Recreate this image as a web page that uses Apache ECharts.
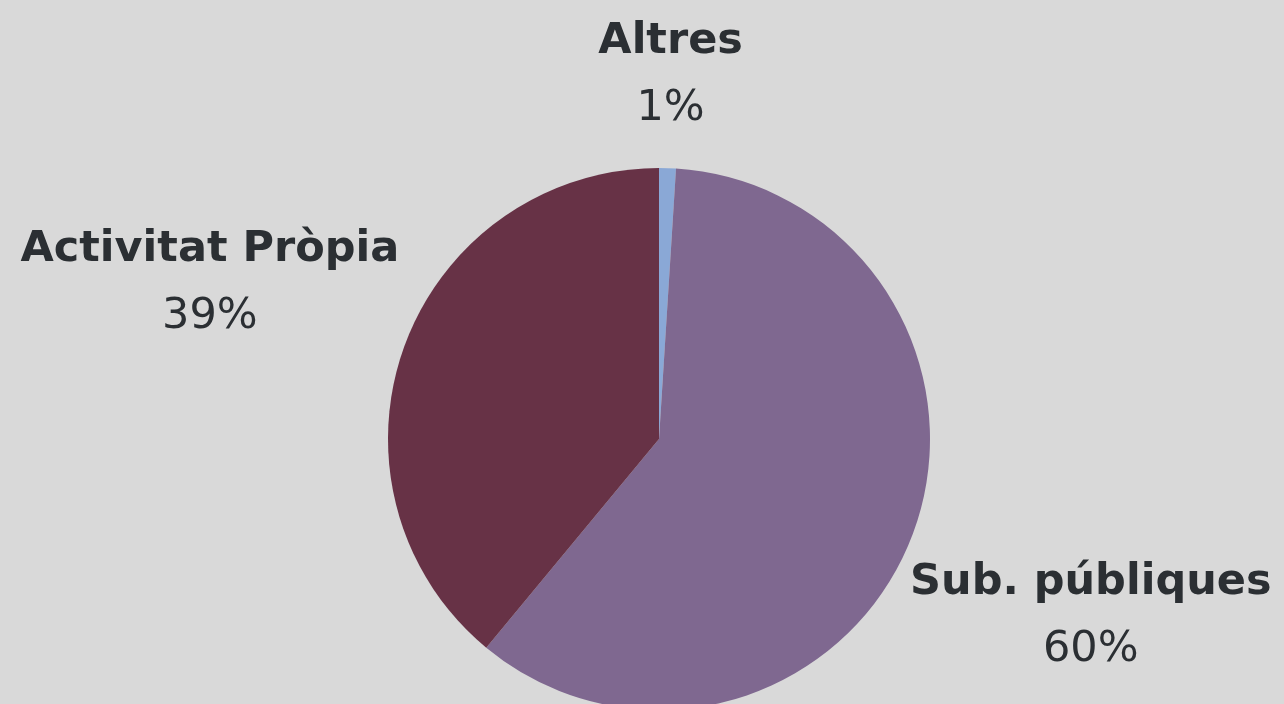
<!DOCTYPE html>
<html><head><meta charset="utf-8">
<script src="https://cdn.jsdelivr.net/npm/echarts@6/dist/echarts.min.js"></script>
<style>html,body{margin:0;padding:0;background:#d9d9d9;}#c{width:1284px;height:704px;}</style>
</head><body><div id="c"></div>
<script>
const categories = ['Altres', 'Sub. públiques', 'Activitat Pròpia'];
const values = [1, 60, 39];
const percentLabels = ['1%', '60%', '39%'];
const colors = ['#8aa8d6', '#7f6890', '#673246'];

const CX = 659, CY = 439, R = 271, GAP = 44, SHIFT_Y = 6;
const total = values.reduce((a, b) => a + b, 0);
const midAngles = [];
let acc = 0;
values.forEach(v => { midAngles.push((acc + v / 2) / total * 2 * Math.PI); acc += v; });

const chart = echarts.init(document.getElementById('c'));
chart.setOption({
  backgroundColor: '#d9d9d9',
  animation: false,
  series: [{
    type: 'pie',
    center: [CX, CY],
    radius: R,
    startAngle: 90,
    clockwise: true,
    label: {
      show: true,
      position: 'outside',
      overflow: 'none',
      edgeDistance: 0,
      formatter: p => '{n|' + p.name + '}\n{p|' + percentLabels[p.dataIndex] + '}',
      rich: {
        n: { fontFamily: 'DejaVu Sans', fontWeight: 'bold', fontSize: 43, color: '#2b2f33', lineHeight: 67, align: 'center' },
        p: { fontFamily: 'DejaVu Sans', fontWeight: 'normal', fontSize: 43, color: '#2b2f33', lineHeight: 67, align: 'center' }
      }
    },
    labelLine: { show: false },
    labelLayout: function (params) {
      const a = midAngles[params.dataIndex];
      const dx = Math.sin(a), dy = -Math.cos(a);
      const hw = params.labelRect.width / 2, hh = params.labelRect.height / 2;
      const ext = Math.min(Math.abs(dx) > 1e-6 ? hw / Math.abs(dx) : Infinity, Math.abs(dy) > 1e-6 ? hh / Math.abs(dy) : Infinity);
      const d = R + GAP + ext;
      return { x: CX + d * dx, y: CY + d * dy + SHIFT_Y, align: 'center', verticalAlign: 'middle' };
    },
    itemStyle: { borderWidth: 0 },
    emphasis: { disabled: true },
    data: categories.map((c, i) => ({ name: c, value: values[i], itemStyle: { color: colors[i] } }))
  }]
});
</script></body></html>
